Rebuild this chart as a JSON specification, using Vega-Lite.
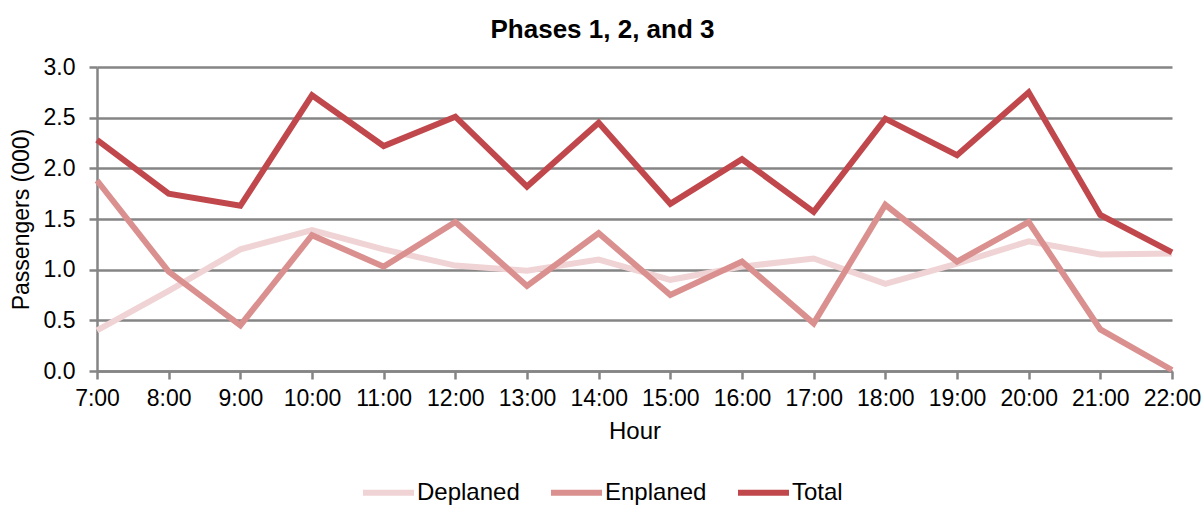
{
  "$schema": "https://vega.github.io/schema/vega-lite/v6.json",
  "width": 1075,
  "height": 304,
  "autosize": "none",
  "padding": {"left": 97, "top": 67, "right": 32, "bottom": 135},
  "background": "white",
  "title": {
    "text": "Phases 1, 2, and 3",
    "font": "Liberation Sans",
    "fontSize": 26,
    "fontWeight": "bold",
    "color": "#000000",
    "anchor": "middle",
    "baseline": "bottom",
    "offset": -13,
    "dx": -32
  },
  "data": {
    "values": [
      {"hour": "7:00", "series": "Deplaned", "value": 0.40},
      {"hour": "8:00", "series": "Deplaned", "value": 0.79},
      {"hour": "9:00", "series": "Deplaned", "value": 1.20},
      {"hour": "10:00", "series": "Deplaned", "value": 1.39},
      {"hour": "11:00", "series": "Deplaned", "value": 1.20},
      {"hour": "12:00", "series": "Deplaned", "value": 1.04},
      {"hour": "13:00", "series": "Deplaned", "value": 0.99},
      {"hour": "14:00", "series": "Deplaned", "value": 1.10},
      {"hour": "15:00", "series": "Deplaned", "value": 0.90},
      {"hour": "16:00", "series": "Deplaned", "value": 1.03},
      {"hour": "17:00", "series": "Deplaned", "value": 1.11},
      {"hour": "18:00", "series": "Deplaned", "value": 0.86},
      {"hour": "19:00", "series": "Deplaned", "value": 1.06},
      {"hour": "20:00", "series": "Deplaned", "value": 1.28},
      {"hour": "21:00", "series": "Deplaned", "value": 1.15},
      {"hour": "22:00", "series": "Deplaned", "value": 1.16},
      {"hour": "7:00", "series": "Enplaned", "value": 1.88},
      {"hour": "8:00", "series": "Enplaned", "value": 0.98},
      {"hour": "9:00", "series": "Enplaned", "value": 0.45},
      {"hour": "10:00", "series": "Enplaned", "value": 1.34},
      {"hour": "11:00", "series": "Enplaned", "value": 1.03},
      {"hour": "12:00", "series": "Enplaned", "value": 1.47},
      {"hour": "13:00", "series": "Enplaned", "value": 0.84},
      {"hour": "14:00", "series": "Enplaned", "value": 1.36},
      {"hour": "15:00", "series": "Enplaned", "value": 0.75},
      {"hour": "16:00", "series": "Enplaned", "value": 1.08},
      {"hour": "17:00", "series": "Enplaned", "value": 0.47},
      {"hour": "18:00", "series": "Enplaned", "value": 1.64},
      {"hour": "19:00", "series": "Enplaned", "value": 1.08},
      {"hour": "20:00", "series": "Enplaned", "value": 1.47},
      {"hour": "21:00", "series": "Enplaned", "value": 0.41},
      {"hour": "22:00", "series": "Enplaned", "value": 0.01},
      {"hour": "7:00", "series": "Total", "value": 2.28},
      {"hour": "8:00", "series": "Total", "value": 1.75},
      {"hour": "9:00", "series": "Total", "value": 1.63},
      {"hour": "10:00", "series": "Total", "value": 2.72},
      {"hour": "11:00", "series": "Total", "value": 2.22},
      {"hour": "12:00", "series": "Total", "value": 2.51},
      {"hour": "13:00", "series": "Total", "value": 1.82},
      {"hour": "14:00", "series": "Total", "value": 2.45},
      {"hour": "15:00", "series": "Total", "value": 1.65},
      {"hour": "16:00", "series": "Total", "value": 2.09},
      {"hour": "17:00", "series": "Total", "value": 1.57},
      {"hour": "18:00", "series": "Total", "value": 2.49},
      {"hour": "19:00", "series": "Total", "value": 2.13},
      {"hour": "20:00", "series": "Total", "value": 2.75},
      {"hour": "21:00", "series": "Total", "value": 1.54},
      {"hour": "22:00", "series": "Total", "value": 1.17}
    ]
  },
  "mark": {"type": "line", "strokeWidth": 6, "strokeJoin": "miter"},
  "encoding": {
    "x": {
      "field": "hour",
      "type": "ordinal",
      "sort": null,
      "scale": {"type": "point", "padding": 0},
      "axis": {
        "title": "Hour",
        "labelAngle": 0,
        "grid": false,
        "domainColor": "#858585",
        "domainWidth": 2.5,
        "tickColor": "#858585",
        "tickWidth": 2.5,
        "tickSize": 8,
        "labelPadding": 8,
        "labelFont": "Liberation Sans",
        "labelFontSize": 23,
        "labelColor": "#000000",
        "titleFont": "Liberation Sans",
        "titleFontSize": 24,
        "titleFontWeight": "normal",
        "titleColor": "#000000",
        "titlePadding": 9
      }
    },
    "y": {
      "field": "value",
      "type": "quantitative",
      "scale": {"domain": [0, 3], "nice": false},
      "axis": {
        "title": "Passengers (000)",
        "values": [0, 0.5, 1, 1.5, 2, 2.5, 3],
        "format": ".1f",
        "grid": true,
        "gridColor": "#858585",
        "gridWidth": 2.5,
        "domainColor": "#858585",
        "domainWidth": 2.5,
        "tickColor": "#858585",
        "tickWidth": 2.5,
        "tickSize": 8,
        "labelPadding": 14,
        "labelFont": "Liberation Sans",
        "labelFontSize": 23,
        "labelColor": "#000000",
        "titleFont": "Liberation Sans",
        "titleFontSize": 23,
        "titleFontWeight": "normal",
        "titleColor": "#000000",
        "titlePadding": 10
      }
    },
    "color": {
      "field": "series",
      "type": "nominal",
      "scale": {
        "domain": ["Deplaned", "Enplaned", "Total"],
        "range": ["#f0d3d4", "#d9908f", "#c0474b"]
      },
      "legend": {
        "title": null,
        "orient": "none",
        "direction": "horizontal",
        "legendX": 263,
        "legendY": 397,
        "padding": 0,
        "symbolType": "stroke",
        "symbolSize": 2600,
        "symbolStrokeWidth": 6,
        "labelFont": "Liberation Sans",
        "labelFontSize": 24,
        "labelColor": "#000000",
        "labelOffset": 0,
        "columnPadding": 19
      }
    }
  },
  "config": {
    "view": {"stroke": null}
  }
}
